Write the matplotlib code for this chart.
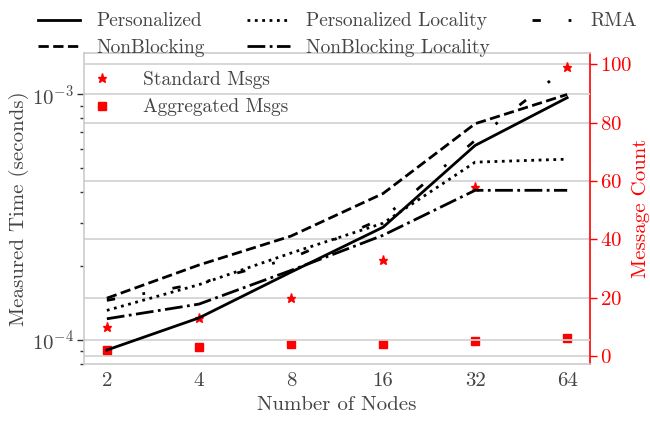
import matplotlib
matplotlib.use("Agg")
import matplotlib.pyplot as plt
from matplotlib.ticker import NullLocator, FixedLocator, FixedFormatter

plt.rcParams["font.family"] = "serif"
plt.rcParams["font.serif"] = ["cmr10"]
plt.rcParams["mathtext.fontset"] = "cm"
plt.rcParams["axes.formatter.use_mathtext"] = True

# Timings (seconds) per node count
nodes = [2, 4, 8, 16, 32, 64]
personalized = [9.1e-5, 1.23e-4, 1.89e-4, 2.88e-4, 6.2e-4, 9.7e-4]
nonblocking = [1.48e-4, 2.02e-4, 2.65e-4, 3.95e-4, 7.6e-4, 1.0e-3]
pers_locality = [1.32e-4, 1.68e-4, 2.26e-4, 2.99e-4, 5.3e-4, 5.45e-4]
nb_locality = [1.22e-4, 1.40e-4, 1.92e-4, 2.67e-4, 4.07e-4, 4.07e-4]
rma = [1.45e-4, 1.70e-4, 2.15e-4, 3.13e-4, 6.5e-4, 1.29e-3]

# Message counts
std_msgs = [10, 13, 20, 33, 58, 99]
agg_msgs = [2, 3, 4, 4, 5, 6]

grey = "#444444"
gridc = "#d4d4d4"

fig = plt.figure(figsize=(6.5, 4.22), dpi=100)
ax = fig.add_axes([0.129, 0.137, 0.779, 0.737])
ax2 = ax.twinx()
ax.set_zorder(ax2.get_zorder() + 1)
ax.patch.set_visible(False)

lw = 2
l1, = ax.plot(nodes, personalized, color="black", lw=lw, ls="-", label="Personalized")
l2, = ax.plot(nodes, nonblocking, color="black", lw=lw, ls="--", label="NonBlocking")
l3, = ax.plot(nodes, pers_locality, color="black", lw=lw, ls=":", label="Personalized Locality")
l4, = ax.plot(nodes, nb_locality, color="black", lw=lw, ls="-.", label="NonBlocking Locality")
l5, = ax.plot(nodes, rma, color="black", lw=lw, ls=(0, (3, 10, 1, 10)), label="RMA")

ax.set_yscale("log")
ax.set_xscale("log", base=2)
ax.xaxis.set_major_locator(FixedLocator(nodes))
ax.xaxis.set_major_formatter(FixedFormatter([str(n) for n in nodes]))
ax.xaxis.set_minor_locator(NullLocator())
ax.set_xlim(2 ** 0.75, 2 ** 6.25)

ax.grid(True, axis="y", which="major", color=gridc, lw=1.3)
ax.set_axisbelow(True)
for s in ax.spines.values():
    s.set_color("#cccccc")
    s.set_linewidth(1.2)
ax.spines["right"].set_visible(False)

ax.tick_params(axis="x", length=0, labelsize=15, labelcolor=grey, pad=6)
ax.tick_params(axis="y", which="major", length=5, width=1, color="#333333", labelsize=15, labelcolor=grey, pad=2)
ax.tick_params(axis="y", which="minor", length=3, width=1, color="#333333")

ax.set_xlabel("Number of Nodes", fontsize=15, color=grey, labelpad=4)
ax.set_ylabel("Measured Time (seconds)", fontsize=15, color=grey, labelpad=2)

# Message counts on the right-hand axis
m1, = ax2.plot(nodes, std_msgs, ls="none", marker="*", color="red", ms=6.5, label="Standard Msgs")
m2, = ax2.plot(nodes, agg_msgs, ls="none", marker="s", color="red", ms=6, label="Aggregated Msgs")
ax2.grid(True, axis="y", color=gridc, lw=1.3)
ax2.set_yticks([0, 20, 40, 60, 80, 100])
ax2.tick_params(axis="y", colors="red", labelsize=15, length=5, width=1, pad=2)
ax2.spines["right"].set_color("red")
ax2.spines["right"].set_linewidth(1.2)
for side in ["left", "top", "bottom"]:
    ax2.spines[side].set_visible(False)
ax2.set_ylabel("Message Count", color="red", fontsize=15, labelpad=0)

ax2.legend(handles=[m1, m2], loc="upper left", bbox_to_anchor=(-0.027, 1.0),
           frameon=False, fontsize=14, handlelength=1.5, handletextpad=1.35,
           numpoints=1, labelcolor=grey)

fig.legend(handles=[l1, l2, l3, l4, l5], loc="upper center", bbox_to_anchor=(0.519, 1.012),
           ncol=3, frameon=False, fontsize=14, columnspacing=2.2,
           handlelength=2.2, handletextpad=0.8, labelspacing=0.45, labelcolor=grey)

fig.savefig("out.png", dpi=100)
